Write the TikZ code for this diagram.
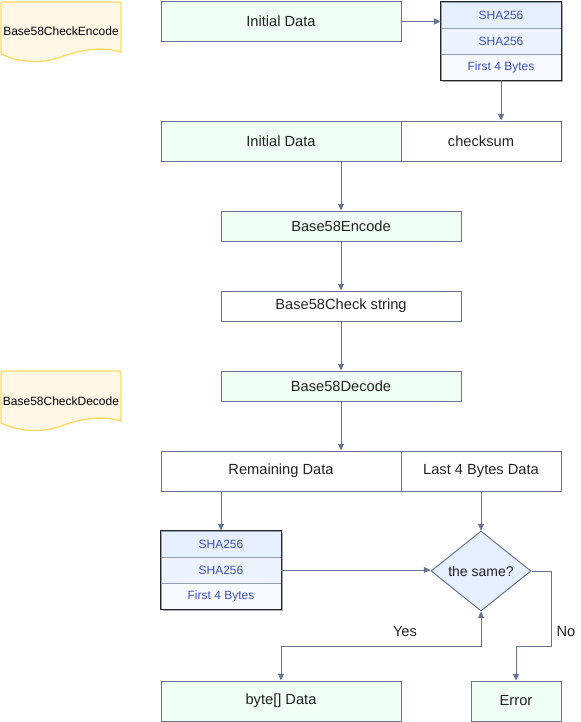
\documentclass[tikz,border=0pt]{standalone}
\usepackage{fontspec}
\setmainfont{Liberation Sans}
\usetikzlibrary{arrows.meta,shapes.geometric,positioning,backgrounds}
\definecolor{myline}{RGB}{102,116,145}
\definecolor{mygreen}{RGB}{240,255,244}
\definecolor{myblue}{RGB}{230,239,255}
\definecolor{myhash}{RGB}{63,81,181}
\definecolor{mynote}{RGB}{255,248,230}
\definecolor{mynoteline}{RGB}{255,217,102}
\definecolor{mytext}{RGB}{34,34,34}

\tikzset{
    flowbox/.style={draw=myline, line width=0.75pt, inner sep=0pt, minimum width=180pt,
        minimum height=30pt, text=mytext, font=\fontsize{11}{13}\selectfont},
    greenbox/.style={flowbox, fill=mygreen},
    hashrow/.style={draw=myline!70, line width=0.6pt, inner sep=0pt, minimum width=90pt,
        minimum height=19.5pt, text=myhash, font=\fontsize{9}{10}\selectfont},
    flowarrow/.style={draw=myline, line width=0.75pt, -{Triangle[length=5pt,width=4.5pt]}},
    notepath/.style={draw=mynoteline, fill=mynote, line width=1pt},
    notetext/.style={inner sep=0pt, text=black, font=\fontsize{9}{10}\selectfont},
    edgelabel/.style={inner sep=0pt, text=mytext, font=\fontsize{11}{13}\selectfont},
}

\begin{document}
\begin{tikzpicture}[x=0.75pt, y=-0.75pt]
    \useasboundingbox (0,0) rectangle (581,722);
    \begin{scope}
        % Notes
        \draw[notepath] (1,54) -- (1,6) .. controls (1,2) .. (5,2) -- (117,2)
            .. controls (121,2) .. (121,6) -- (121,52)
            .. controls (100,46) and (80,50) .. (61,57)
            .. controls (42,64) and (20,63) .. cycle;
        \node[notetext] (encnote) at (61,31) {Base58CheckEncode};
        \begin{scope}[shift={(0,369)}]
            \draw[notepath] (1,54) -- (1,6) .. controls (1,2) .. (5,2) -- (117,2)
                .. controls (121,2) .. (121,6) -- (121,52)
                .. controls (100,46) and (80,50) .. (61,57)
                .. controls (42,64) and (20,63) .. cycle;
            \node[notetext] (decnote) at (61,32) {Base58CheckDecode};
        \end{scope}

        % Encode
        \node[greenbox, minimum height=30pt] (init1) at (281,21.5) {Initial Data};
        \node[hashrow, fill=myblue] (shaA) at (501,15) {SHA256};
        \node[hashrow, fill=myblue!70] (shaB) at (501,41) {SHA256};
        \node[hashrow, fill=myblue!35] (shaC) at (501,67) {First 4 Bytes};
        \node[greenbox] (init2) at (281,141) {Initial Data};
        \node[flowbox, minimum width=120pt] (chksum) at (481,141) {checksum};
        \node[greenbox, minimum height=22.5pt] (enc) at (341,226) {Base58Encode};
        \node[flowbox, minimum height=22.5pt] (chkstr) at (341,306) {Base58Check string};

        % Decode
        \node[greenbox, minimum height=22.5pt] (dec) at (341,386) {Base58Decode};
        \node[flowbox] (remain) at (281,471) {Remaining Data};
        \node[flowbox, minimum width=120pt] (last) at (481,471) {Last 4 Bytes Data};
        \node[hashrow, fill=myblue] (shaD) at (221,544) {SHA256};
        \node[hashrow, fill=myblue!70] (shaE) at (221,570) {SHA256};
        \node[hashrow, fill=myblue!35] (shaF) at (221,596) {First 4 Bytes};
        \node[diamond, draw=myline, line width=0.75pt, fill=myblue, inner sep=0pt,
            minimum width=75pt, minimum height=60pt, text=mytext,
            font=\fontsize{10.5}{12}\selectfont] (same) at (481,571) {the same?};
        \node[greenbox] (bytes) at (281,701) {byte[] Data};
        \node[greenbox, minimum width=67.5pt] (err) at (516,701) {Error};

        % Hash stacks
        \begin{scope}[on background layer]
            \fill[black!35] ([shift={(2,2)}]shaA.north west) rectangle ([shift={(2,2)}]shaC.south east);
            \fill[black!35] ([shift={(2,2)}]shaD.north west) rectangle ([shift={(2,2)}]shaF.south east);
        \end{scope}
        \draw[black!85, line width=1.1pt] (shaA.north west) rectangle (shaC.south east);
        \draw[black!85, line width=1.1pt] (shaD.north west) rectangle (shaF.south east);

        % Arrows
        \draw[flowarrow] (init1.east) -- (init1.east -| shaA.west);
        \draw[flowarrow] (shaC.south) -- (chksum.north -| shaC.south);
        \draw[flowarrow] (enc.north |- init2.south) -- (enc.north);
        \draw[flowarrow] (enc.south) -- (chkstr.north);
        \draw[flowarrow] (chkstr.south) -- (dec.north);
        \draw[flowarrow] (dec.south) -- (dec.south |- remain.north);
        \draw[flowarrow] (shaD.north |- remain.south) -- (shaD.north);
        \draw[flowarrow] (last.south) -- (same.north);
        \draw[flowarrow] (shaE.east) -- (shaE.east -| same.west);
        \draw[flowarrow, {Triangle[length=5pt,width=4.5pt]}-{Triangle[length=5pt,width=4.5pt]}]
            (same.south) -- ++(0,35) -| (bytes.north);
        \draw[flowarrow] (same.east) -- ++(20,0) -- ++(0,75) -| (err.north);
        \node[edgelabel] (yes) at (405,632) {Yes};
        \node[edgelabel] (no) at (566,632) {No};
    \end{scope}
\end{tikzpicture}
\end{document}
